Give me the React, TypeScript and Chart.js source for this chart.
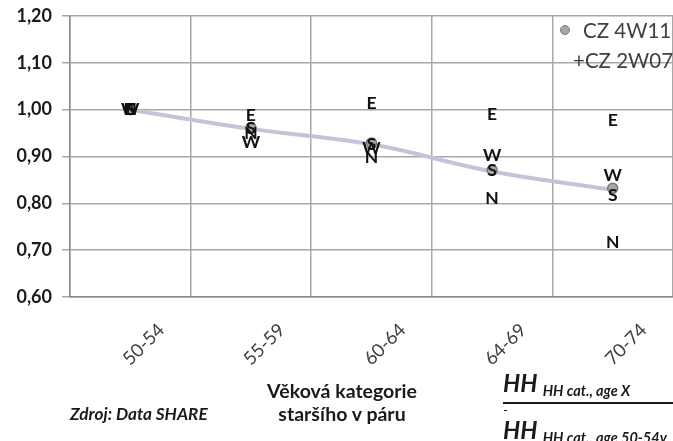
import React, { useEffect, useRef } from "react";
import { Chart, registerables } from "chart.js";

Chart.register(...registerables);

const categories = ["50-54", "55-59", "60-64", "64-69", "70-74"];
const yTickValues = [0.6, 0.7, 0.8, 0.9, 1.0, 1.1, 1.2];
const seriesCZ4W11 = [1.0, 0.962, 0.929, 0.871, 0.832];
const seriesCZ2W07 = [1.0, 0.959, 0.926, 0.868, 0.829];
const regionE = [1.0, 0.988, 1.014, 0.989, 0.978];
const regionW = [1.0, 0.931, 0.918, 0.903, 0.86];
const regionS = [1.0, 0.96, 0.926, 0.871, 0.818];
const regionN = [1.0, 0.95, 0.899, 0.811, 0.717];

const FONT = "Lato, 'Open Sans', sans-serif";

const letterPlugin = {
  id: "letterPoints",
  afterDatasetsDraw(chart: any) {
    const ctx = chart.ctx;
    ctx.save();
    ctx.font = `bold 17.5px ${FONT}`;
    ctx.fillStyle = "#111111";
    ctx.textAlign = "center";
    ctx.textBaseline = "middle";
    chart.data.datasets.forEach((ds: any, i: number) => {
      if (!ds.letter) return;
      const meta = chart.getDatasetMeta(i);
      meta.data.forEach((el: any) => {
        ctx.fillText(ds.letter, el.x, el.y);
      });
    });
    ctx.restore();
  },
};

export default function App() {
  const ref = useRef<HTMLCanvasElement | null>(null);
  useEffect(() => {
    if (!ref.current) return;
    const letterDs = (letter: string, data: number[]) => ({
      label: letter,
      letter,
      data,
      showLine: false,
      pointRadius: 0,
      borderWidth: 0,
      order: 1,
    });
    const chart = new Chart(ref.current, {
      type: "line",
      data: {
        labels: categories,
        datasets: [
          {
            label: "CZ 2W07",
            data: seriesCZ2W07,
            borderColor: "#C9C1DC",
            borderWidth: 4,
            tension: 0.4,
            pointRadius: 0,
            fill: false,
            order: 3,
          } as any,
          {
            label: "CZ 4W11",
            data: seriesCZ4W11,
            showLine: false,
            pointRadius: 5,
            pointBackgroundColor: "#A6A6A6",
            pointBorderColor: "#7A7A7A",
            pointBorderWidth: 1.5,
            order: 2,
          },
          letterDs("E", regionE),
          letterDs("W", regionW),
          letterDs("S", regionS),
          letterDs("N", regionN),
        ],
      },
      options: {
        animation: false,
        responsive: false,
        devicePixelRatio: 1,
        events: [],
        layout: { autoPadding: false, padding: { top: 16, right: 0, left: 0, bottom: 0 } },
        plugins: {
          legend: { display: false },
          tooltip: { enabled: false },
        },
        scales: {
          x: {
            offset: true,
            grid: {
              offset: true,
              color: "#A8A8A8",
              lineWidth: 1.5,
              drawTicks: false,
            },
            border: { color: "#8C8C8C", width: 1.5 },
            ticks: {
              color: "#404040",
              font: { family: FONT, size: 18.5 },
              maxRotation: 45,
              minRotation: 45,
              labelOffset: 31,
              padding: 22,
            },
            afterFit: (s: any) => {
              s.height = 144;
              s.paddingLeft = 0;
              s.paddingRight = 0;
            },
          },
          y: {
            min: 0.6,
            max: 1.2,
            afterBuildTicks: (s: any) => {
              s.ticks = yTickValues.map((v) => ({ value: v }));
            },
            grid: {
              color: "#A8A8A8",
              lineWidth: 1.5,
              tickLength: 8,
            },
            border: { color: "#8C8C8C", width: 1.5 },
            ticks: {
              color: "#1A1A1A",
              font: { family: FONT, size: 18, weight: "bold" },
              padding: 10,
              callback: (v: any) => Number(v).toFixed(2).replace(".", ","),
            },
            afterFit: (s: any) => {
              s.width = 70;
              s.paddingTop = 0;
              s.paddingBottom = 0;
            },
          },
        },
      },
      plugins: [letterPlugin],
    });
    return () => chart.destroy();
  }, []);

  const base: React.CSSProperties = {
    position: "absolute",
    fontFamily: FONT,
    whiteSpace: "nowrap",
    lineHeight: 1,
  };

  return (
    <div
      style={{
        position: "fixed",
        left: 0,
        top: 0,
        width: 673,
        height: 441,
        background: "#fff",
        overflow: "hidden",
      }}
    >
      <canvas
        ref={ref}
        width={673}
        height={441}
        style={{ position: "absolute", left: 0, top: 0, width: 673, height: 441 }}
      />
      {/* legend */}
      <div
        style={{
          position: "absolute",
          left: 560,
          top: 25,
          width: 8,
          height: 8,
          borderRadius: "50%",
          background: "#A6A6A6",
          border: "1.5px solid #7A7A7A",
        }}
      />
      <div style={{ ...base, left: 583, top: 20, fontSize: 20.5, color: "#404040" }}>
        CZ 4W11
      </div>
      <div style={{ ...base, left: 573, top: 50, fontSize: 20.5, color: "#404040" }}>
        +CZ 2W07
      </div>
      {/* axis title */}
      <div
        style={{
          ...base,
          left: 222,
          width: 240,
          top: 379,
          textAlign: "center",
          fontSize: 19.5,
          fontWeight: "bold",
          color: "#1A1A1A",
          lineHeight: "23px",
        }}
      >
        Věková kategorie
        <br />
        staršího v páru
      </div>
      <div
        style={{
          ...base,
          left: 70,
          top: 405,
          fontSize: 17.2,
          fontWeight: "bold",
          fontStyle: "italic",
          color: "#1A1A1A",
        }}
      >
        Zdroj: Data SHARE
      </div>
      {/* formula */}
      <div
        style={{
          ...base,
          left: 503,
          top: 371,
          fontSize: 24,
          fontWeight: "bold",
          fontStyle: "italic",
          color: "#1A1A1A",
        }}
      >
        HH{" "}
        <span style={{ fontSize: 14.5, verticalAlign: "-4px" }}>HH cat., age X</span>
      </div>
      <div
        style={{
          position: "absolute",
          left: 503,
          top: 402,
          width: 170,
          height: 2,
          background: "#1A1A1A",
        }}
      />
      <div
        style={{
          position: "absolute",
          left: 504,
          top: 410,
          width: 3,
          height: 1,
          background: "#1A1A1A",
        }}
      />
      <div
        style={{
          ...base,
          left: 503,
          top: 418,
          fontSize: 24,
          fontWeight: "bold",
          fontStyle: "italic",
          color: "#1A1A1A",
        }}
      >
        HH{" "}
        <span style={{ fontSize: 14.5, verticalAlign: "-4px" }}>HH cat., age 50-54y</span>
      </div>
    </div>
  );
}
